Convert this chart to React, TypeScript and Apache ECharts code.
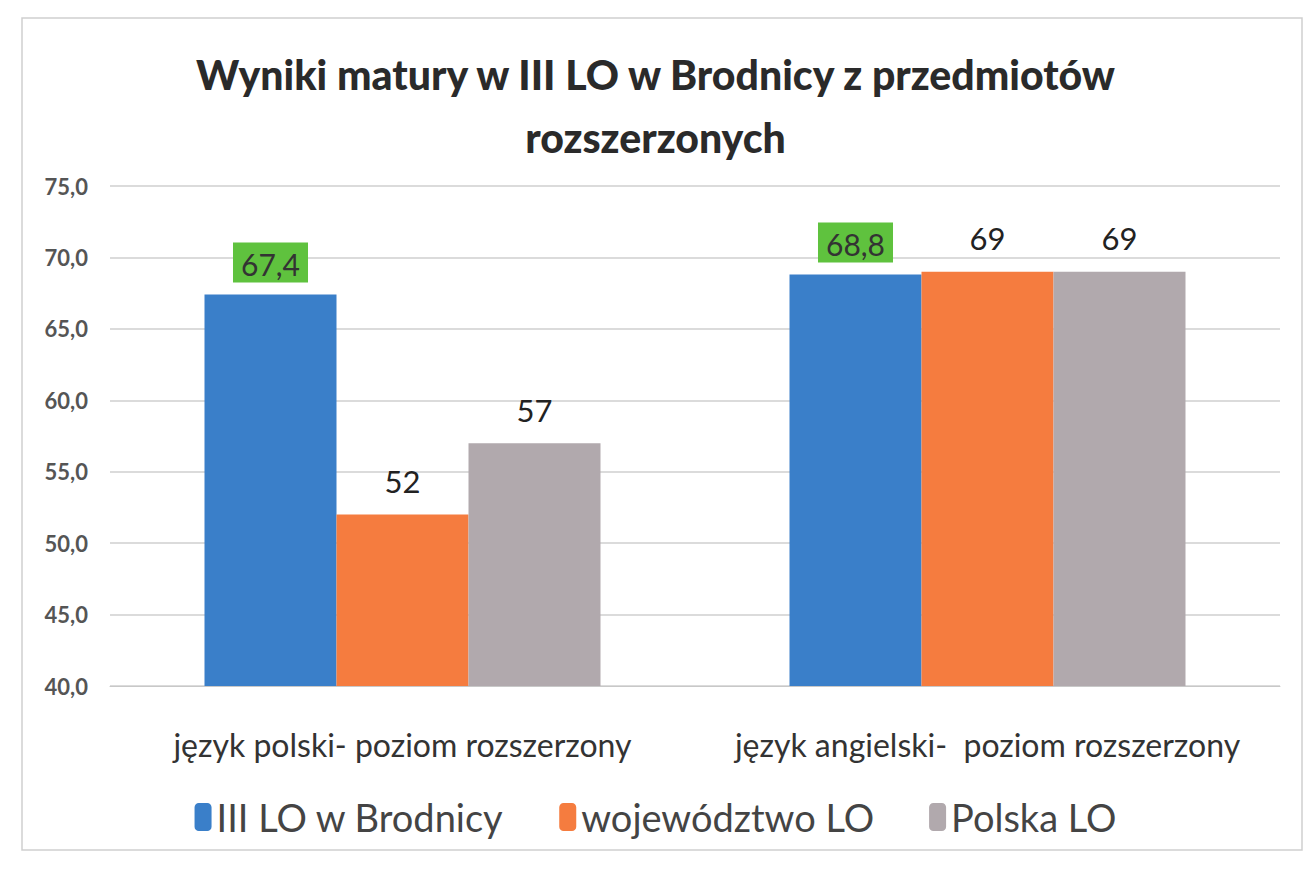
import React, { useEffect, useRef } from "react";
import * as echarts from "echarts";

const categories = ["język polski- poziom rozszerzony", "język angielski-  poziom rozszerzony"];
const seriesNames = ["III LO w Brodnicy", "województwo LO", "Polska LO"];
const brodnica = [67.4, 68.8];
const wojewodztwo = [52, 69];
const polska = [57, 69];
const colors = ["#3a7fc9", "#f57c3f", "#b1a9ad"];

export default function App() {
  const ref = useRef<HTMLDivElement>(null);
  useEffect(() => {
    const chart = echarts.init(ref.current!, null, { renderer: "svg" });
    const font = "Lato, 'Open Sans', sans-serif";
    const plainLabel = {
      show: true,
      position: "top",
      distance: 18,
      fontSize: 31,
      fontFamily: font,
      color: "#222",
      formatter: (p: any) => String(p.value),
    };
    chart.setOption({
      animation: false,
      backgroundColor: "#fff",
      title: {
        text: "Wyniki matury w III LO w Brodnicy z przedmiotów\nrozszerzonych",
        left: "center",
        top: 38,
        textStyle: { fontSize: 41, fontWeight: 900, color: "#2a2a2a", fontFamily: font, lineHeight: 63 },
      },
      graphic: [
        {
          type: "rect",
          shape: { x: 22, y: 18, width: 1280, height: 832 },
          style: { fill: "none", stroke: "#cfcfcf", lineWidth: 1.5 },
          silent: true,
        },
      ],
      legend: {
        bottom: 34,
        left: "center",
        itemWidth: 17,
        itemHeight: 28,
        itemGap: 55,
        textStyle: { fontSize: 38, color: "#444", fontFamily: font },
        data: seriesNames,
      },
      grid: { left: 110, right: 31, top: 186, bottom: 189 },
      xAxis: {
        type: "category",
        data: categories,
        axisLine: { show: true, lineStyle: { color: "#c8c8c8" } },
        axisTick: { show: false },
        axisLabel: { fontSize: 32, color: "#333", margin: 42, fontFamily: font, interval: 0 },
      },
      yAxis: {
        type: "value",
        min: 40,
        max: 75,
        interval: 5,
        axisLine: { show: false },
        axisTick: { show: false },
        splitLine: { lineStyle: { color: "#cfcfcf", width: 1.5 } },
        axisLabel: {
          fontSize: 22,
          fontWeight: "bold",
          color: "#555",
          margin: 22,
          fontFamily: font,
          formatter: (v: number) => v.toFixed(1).replace(".", ","),
        },
      },
      series: [
        {
          name: seriesNames[0],
          type: "bar",
          data: brodnica,
          barWidth: 132,
          barGap: "0%",
          itemStyle: { color: colors[0] },
          label: {
            show: true,
            position: "top",
            distance: 12,
            fontSize: 30,
            fontFamily: font,
            color: "#333",
            backgroundColor: "#5fc23e",
            padding: [6, 8, 4, 8],
            formatter: (p: any) => Number(p.value).toFixed(1).replace(".", ","),
          },
        },
        { name: seriesNames[1], type: "bar", data: wojewodztwo, barWidth: 132, barGap: "0%", itemStyle: { color: colors[1] }, label: plainLabel },
        { name: seriesNames[2], type: "bar", data: polska, barWidth: 132, barGap: "0%", itemStyle: { color: colors[2] }, label: plainLabel },
      ],
    });
    return () => chart.dispose();
  }, []);
  return <div ref={ref} style={{ position: "fixed", left: 0, top: 0, width: 1311, height: 875 }} />;
}
